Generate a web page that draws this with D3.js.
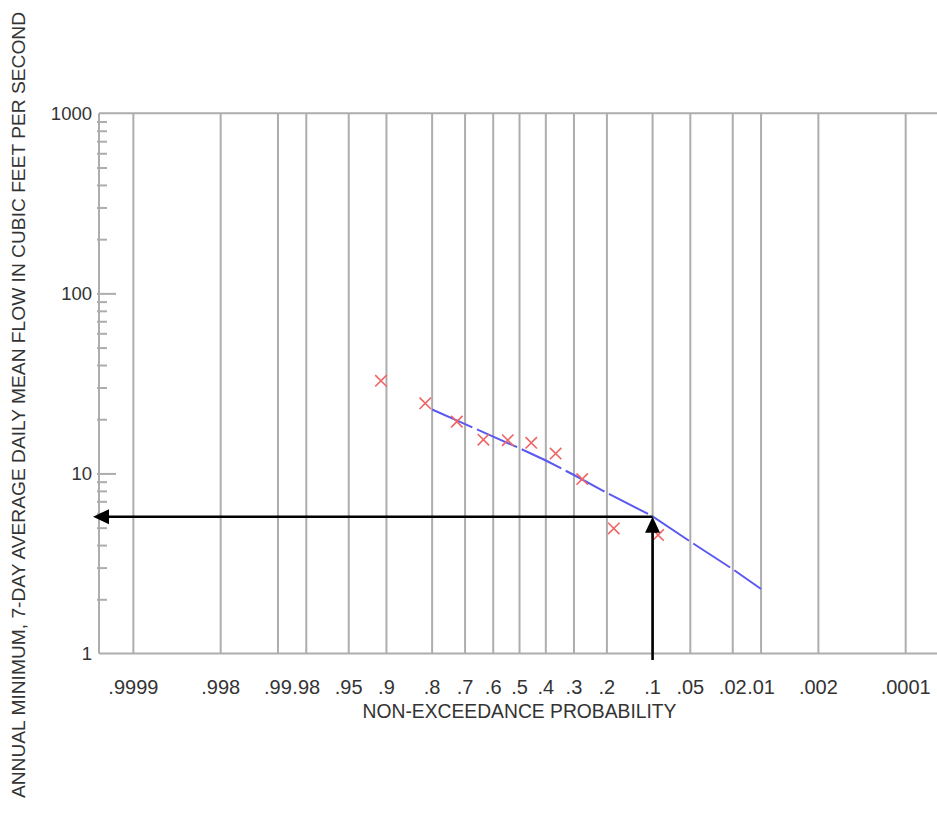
<!DOCTYPE html>
<html>
<head>
<meta charset="utf-8">
<script src="https://cdn.jsdelivr.net/npm/d3@7"></script>
<style>
  html, body { margin: 0; padding: 0; background: #fff; }
  svg { display: block; }
  text { font-family: "Liberation Sans", Arial, sans-serif; fill: #333; }
</style>
</head>
<body>
<svg id="chart" width="937" height="819"></svg>
<script>
// ---- data ----
const probTicks  = [0.9999, 0.998, 0.99, 0.98, 0.95, 0.9, 0.8, 0.7, 0.6, 0.5, 0.4, 0.3, 0.2, 0.1, 0.05, 0.02, 0.01, 0.002, 0.0001];
const probLabels = [".9999", ".998", ".99", ".98", ".95", ".9", ".8", ".7", ".6", ".5", ".4", ".3", ".2", ".1", ".05", ".02", ".01", ".002", ".0001"];
const flowTicks  = [1, 10, 100, 1000];
const flowLabels = ["1", "10", "100", "1000"];
// observed annual minimum 7-day flows with plotting positions
const obsProb = [0.909, 0.818, 0.727, 0.636, 0.545, 0.455, 0.364, 0.273, 0.182, 0.091];
const obsFlow = [32.7, 24.5, 19.4, 15.4, 15.3, 14.8, 12.9, 9.3, 4.95, 4.55];
// fitted frequency curve
const fitProb = [0.8, 0.7, 0.6, 0.5, 0.4, 0.3, 0.2, 0.1, 0.05, 0.02, 0.01];
const fitFlow = [22.65, 18.8, 16.0, 13.8, 11.8, 9.8, 7.8, 5.78, 4.18, 2.94, 2.28];
// 7Q10 annotation
const annotProb = [0.1];
const annotFlow = [5.75];
const xTitle = "NON-EXCEEDANCE PROBABILITY";
const yTitle = "ANNUAL MINIMUM, 7-DAY AVERAGE DAILY MEAN FLOW IN CUBIC FEET PER SECOND";

// ---- inverse normal CDF (probability-paper transform) ----
function normInv(p) {
  const a = [-3.969683028665376e+01, 2.209460984245205e+02, -2.759285104469687e+02, 1.383577518672690e+02, -3.066479806614716e+01, 2.506628277459239e+00];
  const b = [-5.447609879822406e+01, 1.615858368580409e+02, -1.556989798598866e+02, 6.680131188771972e+01, -1.328068155288572e+01];
  const c = [-7.784894002430293e-03, -3.223964580411365e-01, -2.400758277161838e+00, -2.549732539343734e+00, 4.374664141464968e+00, 2.938163982698783e+00];
  const d = [7.784695709041462e-03, 3.224671290700398e-01, 2.445134137142996e+00, 3.754408661907416e+00];
  const plow = 0.02425, phigh = 1 - plow;
  let q, r;
  if (p < plow) {
    q = Math.sqrt(-2 * Math.log(p));
    return (((((c[0]*q+c[1])*q+c[2])*q+c[3])*q+c[4])*q+c[5]) / ((((d[0]*q+d[1])*q+d[2])*q+d[3])*q+1);
  } else if (p <= phigh) {
    q = p - 0.5; r = q*q;
    return (((((a[0]*r+a[1])*r+a[2])*r+a[3])*r+a[4])*r+a[5])*q / (((((b[0]*r+b[1])*r+b[2])*r+b[3])*r+b[4])*r+1);
  } else {
    q = Math.sqrt(-2 * Math.log(1 - p));
    return -(((((c[0]*q+c[1])*q+c[2])*q+c[3])*q+c[4])*q+c[5]) / ((((d[0]*q+d[1])*q+d[2])*q+d[3])*q+1);
  }
}

// ---- layout ----
const L = 99, R = 939, T = 113.3, B = 653.5;
const zScale = d3.scaleLinear().domain([4.05, -4.04]).range([L, R]);
const x = p => zScale(normInv(p));
const y = d3.scaleLog().domain([1, 1000]).range([B, T]);

const svg = d3.select("#chart");
const grid = "#adadad";

// vertical probability gridlines
svg.append("g").selectAll("line").data(probTicks).join("line")
  .attr("x1", d => x(d)).attr("x2", d => x(d))
  .attr("y1", T).attr("y2", B)
  .attr("stroke", grid).attr("stroke-width", 2);

// frame: top, bottom, left
svg.append("line").attr("x1", L).attr("x2", R).attr("y1", y(1000)).attr("y2", y(1000)).attr("stroke", grid).attr("stroke-width", 2);
svg.append("line").attr("x1", L).attr("x2", R).attr("y1", y(1)).attr("y2", y(1)).attr("stroke", grid).attr("stroke-width", 2);
svg.append("line").attr("x1", L).attr("x2", L).attr("y1", T).attr("y2", B).attr("stroke", grid).attr("stroke-width", 2);

// y ticks: minor and major
const minor = [];
for (let dec = 1; dec < 1000; dec *= 10) for (let k = 2; k <= 9; k++) minor.push(dec * k);
const yAxisMinor = d3.axisRight(y).tickValues(minor).tickSize(10).tickFormat("");
const gMin = svg.append("g").attr("transform", `translate(${L - 2},0)`).call(yAxisMinor);
const yAxisMajor = d3.axisRight(y).tickValues([10, 100]).tickSize(19).tickFormat("");
const gMaj = svg.append("g").attr("transform", `translate(${L - 2},0)`).call(yAxisMajor);
[gMin, gMaj].forEach(g => {
  g.select(".domain").remove();
  g.selectAll("line").attr("stroke", grid).attr("stroke-width", 2);
});

// y labels
const yAxisLabels = d3.axisLeft(y).tickValues(flowTicks).tickSize(0).tickPadding(0)
  .tickFormat((d, i) => flowLabels[i]);
const gYL = svg.append("g").attr("transform", `translate(92,0)`).call(yAxisLabels);
gYL.select(".domain").remove();
gYL.selectAll("text").attr("font-size", 18.5).attr("fill", "#333")
  .attr("font-family", '"Liberation Sans", Arial, sans-serif');

// x labels
svg.append("g").selectAll("text").data(probTicks).join("text")
  .attr("x", d => x(d)).attr("y", 693.5)
  .attr("text-anchor", "middle").attr("font-size", 20)
  .text((d, i) => probLabels[i]);

// axis titles
svg.append("text").attr("x", x(0.5)).attr("y", 717.5)
  .attr("text-anchor", "middle").attr("font-size", 19.3).text(xTitle);
svg.append("text").attr("transform", "translate(25,405) rotate(-90)")
  .attr("text-anchor", "middle").attr("font-size", 19.2).text(yTitle);

// fitted curve
const line = d3.line().x(d => x(d[0])).y(d => y(d[1]));
svg.append("path").datum(fitProb.map((p, i) => [p, fitFlow[i]]))
  .attr("d", line).attr("fill", "none")
  .attr("stroke", "#5a5af0").attr("stroke-width", 2)
  .attr("stroke-dasharray", "44,5");

// observed points (x markers)
const s = 5.7;
svg.append("g").selectAll("path").data(obsProb.map((p, i) => [p, obsFlow[i]])).join("path")
  .attr("d", d => {
    const cx = x(d[0]), cy = y(d[1]);
    return `M${cx - s},${cy - s}L${cx + s},${cy + s}M${cx - s},${cy + s}L${cx + s},${cy - s}`;
  })
  .attr("stroke", "#f06464").attr("stroke-width", 1.6).attr("fill", "none");

// annotation arrows
const ax = x(annotProb[0]), ay = y(annotFlow[0]);
const aw = 2.6, head = 16, hw = 7.5;
// vertical arrow from below the axis up to the curve
svg.append("line").attr("x1", ax).attr("x2", ax).attr("y1", B + 6.5).attr("y2", ay + head - 1)
  .attr("stroke", "#000").attr("stroke-width", aw);
svg.append("path").attr("d", `M${ax},${ay}L${ax - hw},${ay + head}L${ax + hw},${ay + head}Z`).attr("fill", "#000");
// horizontal arrow from the curve to the flow axis
const tipX = L - 6;
svg.append("line").attr("x1", ax).attr("x2", tipX + head - 1).attr("y1", ay).attr("y2", ay)
  .attr("stroke", "#000").attr("stroke-width", aw);
svg.append("path").attr("d", `M${tipX},${ay}L${tipX + head},${ay - hw}L${tipX + head},${ay + hw}Z`).attr("fill", "#000");
</script>
</body>
</html>
